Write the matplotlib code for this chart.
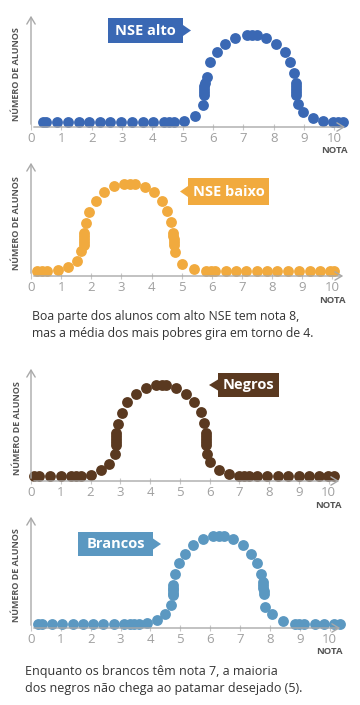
import matplotlib.pyplot as plt
from matplotlib.patches import Polygon

plt.rcParams['font.family'] = ['Open Sans', 'DejaVu Sans']

# Dots along each curve: nota (x) and número de alunos (arbitrary units)
alto_x = [0.39, 0.50, 0.87, 1.22, 1.58, 1.92, 2.28, 2.62, 2.98, 3.33, 3.69, 4.03, 4.39, 4.56, 4.72,
          5.06, 5.42, 5.67, 5.70, 5.70, 5.71, 5.71, 5.72, 5.80, 5.91, 6.13, 6.39, 6.74, 7.11, 7.28, 7.44,
          7.74, 8.08, 8.36, 8.53, 8.67, 8.72, 8.72, 8.73, 8.73, 8.74, 8.80, 8.98, 9.28, 9.61, 9.94,
          10.11, 10.28]
alto_y = [4.7, 4.7, 4.7, 4.7, 4.7, 4.7, 4.7, 4.7, 4.7, 4.7, 4.7, 4.7, 4.7, 4.7, 4.7,
          6.3, 11.3, 22, 32, 35, 38, 41, 44, 49.7, 64.7, 74.7, 83, 88.7, 92, 92, 92,
          88.7, 83, 74.7, 64.7, 54, 44, 41, 38, 35, 32, 23, 14.7, 8.7, 5.7, 4.7,
          4.7, 4.7]

baixo_x = [0.20, 0.37, 0.53, 0.89, 1.23, 1.51, 1.67, 1.75, 1.75, 1.76, 1.76, 1.77, 1.83, 1.94,
           2.14, 2.41, 2.75, 3.10, 3.30, 3.44, 3.77, 4.08, 4.35, 4.52, 4.66, 4.72, 4.72, 4.73,
           4.73, 4.74, 4.78, 5.02, 5.40, 5.79, 5.96, 6.12, 6.46, 6.79, 7.14, 7.49, 7.84, 8.17,
           8.53, 8.89, 9.25, 9.59, 9.92, 10.06]
baixo_y = [5, 5, 5, 6, 8.7, 15, 25.3, 31, 34, 37, 40, 43, 53.3, 64.3,
           75.3, 83.7, 90, 92, 92, 92, 89.3, 83.7, 75, 65.3, 54.3, 43, 40, 37,
           34, 31, 24.3, 11.7, 6.7, 5, 5, 5, 5, 5, 5, 5, 5, 5,
           5, 5, 5, 5, 5, 5]

negros_x = [0.11, 0.28, 0.65, 1.01, 1.34, 1.51, 1.68, 2.01, 2.36, 2.63, 2.82, 2.85, 2.85, 2.86,
            2.86, 2.87, 2.91, 3.05, 3.24, 3.52, 3.85, 4.21, 4.39, 4.55, 4.86, 5.20, 5.47, 5.70,
            5.81, 5.87, 5.87, 5.88, 5.88, 5.89, 5.92, 6.03, 6.31, 6.65, 6.98, 7.15, 7.32, 7.60,
            7.93, 8.29, 8.64, 8.99, 9.33, 9.69, 9.98, 10.17]
negros_y = [5, 5, 5, 5, 5, 5, 5, 6.3, 10.7, 17.3, 26.7, 36, 39, 42,
            45, 48, 57.3, 68.3, 79, 87.3, 93.3, 96.3, 96.3, 96.3, 93.3, 87.3, 79, 69,
            58, 48, 45, 42, 39, 36, 27.3, 19, 11.3, 6.7, 5, 5, 5, 5,
            5, 5, 5, 5, 5, 5, 5, 5]

brancos_x = [0.22, 0.37, 0.70, 1.04, 1.40, 1.73, 2.07, 2.42, 2.77, 3.13, 3.30, 3.46, 3.61, 3.89,
             4.22, 4.50, 4.69, 4.74, 4.74, 4.75, 4.76, 4.77, 4.83, 4.97, 5.16, 5.42, 5.75, 6.11,
             6.29, 6.45, 6.76, 7.09, 7.37, 7.58, 7.71, 7.77, 7.77, 7.78, 7.79, 7.80, 7.85, 8.08,
             8.44, 8.83, 8.99, 9.16, 9.50, 9.83, 10.15, 10.34]
brancos_y = [4.3, 4.3, 4.3, 4.3, 4.3, 4.3, 4.3, 4.3, 4.3, 4.3, 4.3, 4.3, 4.3, 4.7,
             8, 13.7, 22.7, 33, 35.5, 38, 40.5, 43, 53.7, 64.7, 74.3, 83, 88.7, 92,
             92, 92, 88.7, 83, 74.3, 64.7, 53.7, 46, 43, 40, 37, 34, 21.3, 13.7,
             7.3, 4.3, 4.3, 4.3, 4.3, 4.3, 4.3, 4.3]

tags = ['NSE alto', 'NSE baixo', 'Negros', 'Brancos']
colors = ['#3a68b4', '#f1aa3e', '#5a3920', '#5b98c1']
nota_ticks = list(range(11))
captions = ['Boa parte dos alunos com alto NSE tem nota 8,\nmas a média dos mais pobres gira em torno de 4.',
            'Enquanto os brancos têm nota 7, a maioria\ndos negros não chega ao patamar desejado (5).']

W, H = 360, 705
fig = plt.figure(figsize=(W / 100, H / 100), dpi=100)
fig.patch.set_facecolor('white')

# panel geometry in pixels: left, top, right, axis line
boxes = [(31, 13, 348, 127), (31, 160, 346, 276), (31, 366, 342, 481), (31, 514, 343, 628)]
series = [(alto_x, alto_y), (baixo_x, baixo_y), (negros_x, negros_y), (brancos_x, brancos_y)]
gray = '#a9a9a9'

for (l, t, r, b), (xs, ys), col in zip(boxes, series, colors):
    ax = fig.add_axes([l / W, 1 - b / H, (r - l) / W, (b - t) / H])
    ax.set_xlim(0, 10.45)
    ax.set_ylim(0, b - t)
    for s in ax.spines.values():
        s.set_visible(False)
    ax.annotate('', xy=(1, 0), xytext=(0, 0), xycoords='axes fraction',
                arrowprops=dict(arrowstyle='->,head_length=0.5,head_width=0.3', color=gray, lw=1))
    ax.annotate('', xy=(0, 1), xytext=(0, 0), xycoords='axes fraction',
                arrowprops=dict(arrowstyle='->,head_length=0.5,head_width=0.3', color=gray, lw=1))
    ax.plot(xs, ys, 'o', color=col, markersize=7.8, markeredgewidth=0, clip_on=False)
    ax.set_xticks(nota_ticks)
    ax.set_xticklabels([str(n) for n in nota_ticks])
    ax.tick_params(axis='x', direction='inout', length=5, width=0.8, color='#c8c8c8',
                   labelcolor='#a0a0a0', labelsize=9.5, pad=1)
    ax.set_yticks([])
    ax.text(1.0, -0.21, 'NOTA', transform=ax.transAxes, ha='right', va='center',
            fontsize=6.8, fontweight='bold', color='#555555')
    ax.text(-0.045, 0.46, 'NÚMERO DE ALUNOS', transform=ax.transAxes, rotation=90,
            ha='center', va='center', fontsize=6.5, fontweight='bold', color='#555555')


def tag(x0, y0, x1, y1, tip, text, color):
    yc = (y0 + y1) / 2
    if tip > x1:
        pts = [(x0, y0), (x1, y0), (x1, yc - 5.5), (tip, yc), (x1, yc + 5.5), (x1, y1), (x0, y1)]
    else:
        pts = [(x0, y0), (x1, y0), (x1, y1), (x0, y1), (x0, yc + 5.5), (tip, yc), (x0, yc - 5.5)]
    pts = [(x / W, 1 - y / H) for x, y in pts]
    fig.patches.append(Polygon(pts, closed=True, transform=fig.transFigure, fc=color, ec='none'))
    fig.text((x0 + x1) / 2 / W, 1 - (yc + 0.5) / H, text, ha='center', va='center',
             color='white', fontsize=10.5, fontweight='bold')


tag(108, 18, 183, 43, 191, tags[0], colors[0])
tag(188, 178, 269, 205, 180, tags[1], colors[1])
tag(218, 373, 279, 397, 209, tags[2], colors[2])
tag(78, 532, 153, 556, 161, tags[3], colors[3])

fig.text(32 / W, 1 - 325 / H, captions[0], ha='left', va='center', fontsize=8.8,
         color='#333333', linespacing=1.45)
fig.text(25 / W, 1 - 680 / H, captions[1], ha='left', va='center', fontsize=9,
         color='#333333', linespacing=1.45)

fig.savefig('out.png', dpi=100)
